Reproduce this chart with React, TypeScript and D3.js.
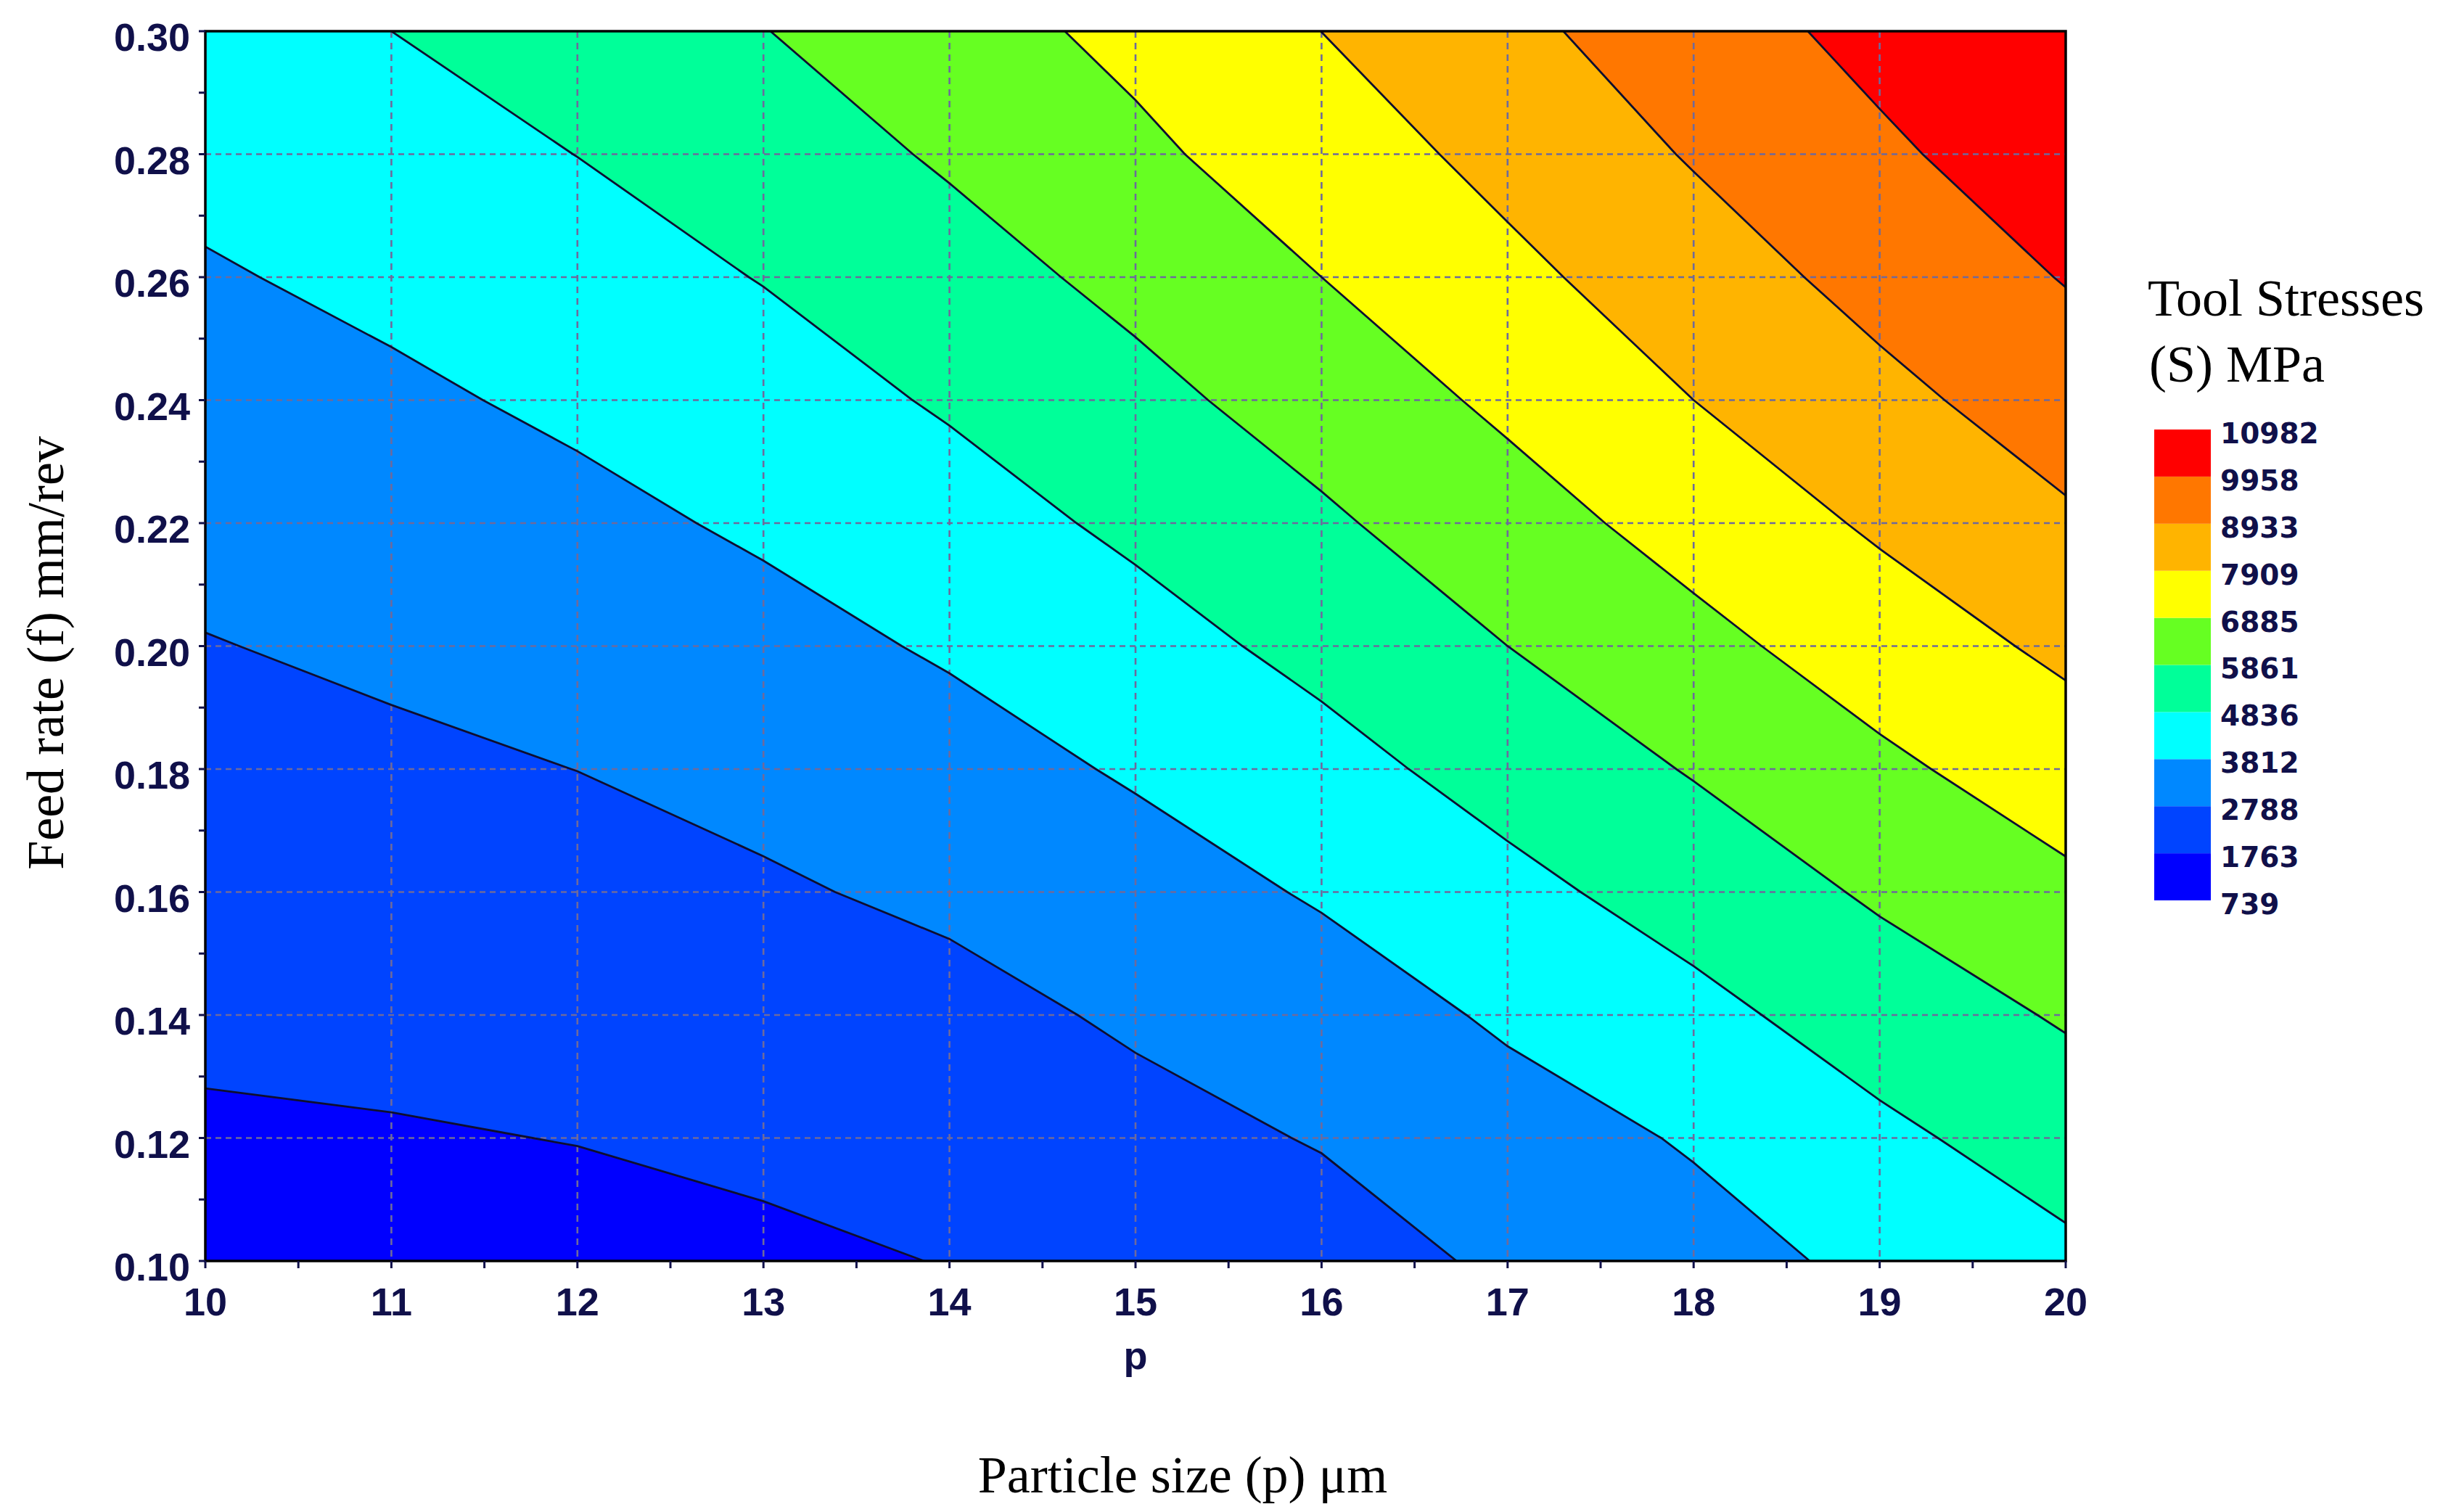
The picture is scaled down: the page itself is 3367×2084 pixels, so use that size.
import React, { useEffect } from "react";
import * as d3 from "d3";

// ---------- data ----------
const pValues = [10, 11, 12, 13, 14, 15, 16, 17, 18, 19, 20]; // particle size (µm)
const fValues = [0.1, 0.12, 0.14, 0.16, 0.18, 0.2, 0.22, 0.24, 0.26, 0.28, 0.3]; // feed rate (mm/rev)

// Tool stress (MPa) on the grid, one row per feed rate, columns follow pValues
const stressAtF010 = [1421, 1430, 1480, 1592, 1790, 2030, 2365, 2948, 3500, 4000, 4634];
const stressAtF012 = [1655, 1700, 1783, 1944, 2179, 2475, 2848, 3442, 3890, 4629, 5290];
const stressAtF014 = [1923, 2002, 2119, 2307, 2480, 2927, 3369, 3938, 4566, 5303, 5961];
const stressAtF016 = [2200, 2310, 2456, 2669, 2978, 3413, 3902, 4571, 5246, 5999, 6677];
const stressAtF018 = [2476, 2617, 2794, 3078, 3443, 3912, 4505, 5212, 5928, 6689, 7397];
const stressAtF020 = [2753, 2945, 3184, 3507, 3917, 4469, 5107, 5861, 6602, 7376, 8108];
const stressAtF022 = [3072, 3297, 3574, 3946, 4429, 5025, 5709, 6471, 7261, 8050, 8795];
const stressAtF024 = [3398, 3648, 3981, 4408, 4942, 5580, 6300, 7075, 7909, 8676, 9412];
const stressAtF026 = [3723, 4028, 4413, 4872, 5461, 6128, 6885, 7669, 8467, 9251, 10007];
const stressAtF028 = [4082, 4432, 4846, 5354, 5985, 6700, 7397, 8205, 9010, 9782, 10545];
const stressAtF030 = [4454, 4836, 5322, 5836, 6500, 7121, 7913, 8700, 9478, 10260, 10982];

const legendLevels = [739, 1763, 2788, 3812, 4836, 5861, 6885, 7909, 8933, 9958, 10982];
const bandColors = [
  "#0000ff", "#0044ff", "#0088ff", "#00ffff", "#00ff99",
  "#66ff22", "#ffff00", "#ffb400", "#ff7700", "#ff0000",
];

const xTickLabels = ["10", "11", "12", "13", "14", "15", "16", "17", "18", "19", "20"];
const yTickLabels = ["0.10", "0.12", "0.14", "0.16", "0.18", "0.20", "0.22", "0.24", "0.26", "0.28", "0.30"];

// ---------- layout ----------
const W = 3367;
const H = 2084;
const PL = 283, PR = 2847, PT = 43, PB = 1738;
const NAVY = "#10104a";
const SANS = "'Liberation Sans', Arial, sans-serif";
const SERIF = "'Liberation Serif', 'Times New Roman', serif";

export default function App() {
  useEffect(() => {
    document.body.style.margin = "0";
    document.body.style.overflow = "hidden";
  }, []);

  const x = d3.scaleLinear().domain([pValues[0], pValues[pValues.length - 1]]).range([PL, PR]);
  const y = d3.scaleLinear().domain([fValues[0], fValues[fValues.length - 1]]).range([PB, PT]);

  const rows = [
    stressAtF010, stressAtF012, stressAtF014, stressAtF016, stressAtF018, stressAtF020,
    stressAtF022, stressAtF024, stressAtF026, stressAtF028, stressAtF030,
  ];
  const nx = pValues.length;
  const ny = fValues.length;
  const flat = rows.flat();
  const thresholds = legendLevels.slice(1, -1);
  const contours = d3.contours().size([nx, ny]).thresholds(thresholds)(flat);

  const dp = pValues[1] - pValues[0];
  const df = fValues[1] - fValues[0];
  const proj = d3.geoTransform({
    point: function (cx: number, cy: number) {
      // value index i sits at grid coordinate i + 0.5
      (this as any).stream.point(x(pValues[0] + (cx - 0.5) * dp), y(fValues[0] + (cy - 0.5) * df));
    },
  });
  const path = d3.geoPath(proj as any);

  const xMinor = d3.range(0, 21).map((i) => pValues[0] + (i * dp) / 2);
  const yMinor = d3.range(0, 21).map((i) => fValues[0] + (i * df) / 2);

  const legendY = d3
    .scaleLinear()
    .domain([legendLevels[0], legendLevels[legendLevels.length - 1]])
    .range([1241, 592]);

  return (
    <svg width={W} height={H} style={{ display: "block", background: "#ffffff" }}>
      <defs>
        <clipPath id="plotClip">
          <rect x={PL} y={PT} width={PR - PL} height={PB - PT} />
        </clipPath>
      </defs>

      {/* filled bands */}
      <g clipPath="url(#plotClip)">
        <rect x={PL} y={PT} width={PR - PL} height={PB - PT} fill={bandColors[0]} />
        {contours.map((c, i) => (
          <path key={"f" + i} d={path(c as any) || ""} fill={bandColors[i + 1]} stroke="none" />
        ))}
        {/* grid */}
        {pValues.slice(1, -1).map((p) => (
          <line key={"gx" + p} x1={x(p)} x2={x(p)} y1={PT} y2={PB}
            stroke="#6e6a9c" strokeWidth={2.6} strokeDasharray="9 7" />
        ))}
        {fValues.slice(1, -1).map((f) => (
          <line key={"gy" + f} x1={PL} x2={PR} y1={y(f)} y2={y(f)}
            stroke="#6e6a9c" strokeWidth={2.6} strokeDasharray="8 6" />
        ))}
        {/* contour lines */}
        {contours.map((c, i) => (
          <path key={"l" + i} d={path(c as any) || ""} fill="none" stroke="#0e0e30" strokeWidth={2.8} />
        ))}
      </g>

      {/* frame */}
      <rect x={PL} y={PT} width={PR - PL} height={PB - PT} fill="none" stroke="#000" strokeWidth={3.5} />

      {/* y ticks */}
      {yMinor.map((f, i) => (
        <line key={"yt" + i} x1={PL - 9} x2={PL} y1={y(f)} y2={y(f)} stroke={NAVY} strokeWidth={3} />
      ))}
      {fValues.map((f, i) => (
        <text key={"yl" + i} x={262} y={y(f) + 27} textAnchor="end" fontFamily={SANS}
          fontWeight="bold" fontSize={54} fill={NAVY}>{yTickLabels[i]}</text>
      ))}

      {/* x ticks */}
      {xMinor.map((p, i) => (
        <line key={"xt" + i} x1={x(p)} x2={x(p)} y1={PB} y2={PB + 10} stroke={NAVY} strokeWidth={3} />
      ))}
      {pValues.map((p, i) => (
        <text key={"xl" + i} x={x(p)} y={1813} textAnchor="middle" fontFamily={SANS}
          fontWeight="bold" fontSize={54} fill={NAVY}>{xTickLabels[i]}</text>
      ))}
      <text x={x(15)} y={1887} textAnchor="middle" fontFamily={SANS} fontWeight="bold" fontSize={54} fill={NAVY}>p</text>

      {/* axis titles */}
      <text x={1630} y={2057} textAnchor="middle" fontFamily={SERIF} fontSize={72} fill="#000">Particle size (p) μm</text>
      <text transform="translate(87, 900) rotate(-90)" textAnchor="middle" fontFamily={SERIF} fontSize={72} fill="#000">Feed rate (f) mm/rev</text>

      {/* legend */}
      <text x={2960} y={435} fontFamily={SERIF} fontSize={72} fill="#000">Tool Stresses</text>
      <text x={2962} y={526} fontFamily={SERIF} fontSize={72} fill="#000">(S) MPa</text>
      {bandColors.map((col, i) => (
        <rect key={"lg" + i} x={2969} width={78}
          y={legendY(legendLevels[i + 1])}
          height={legendY(legendLevels[i]) - legendY(legendLevels[i + 1])}
          fill={col} />
      ))}
      {legendLevels.map((v, i) => (
        <text key={"ll" + i} x={3060} y={legendY(v) + 19} fontFamily="'DejaVu Sans', Verdana, sans-serif"
          fontWeight="bold" fontSize={39} fill={NAVY}>{v}</text>
      ))}
    </svg>
  );
}
